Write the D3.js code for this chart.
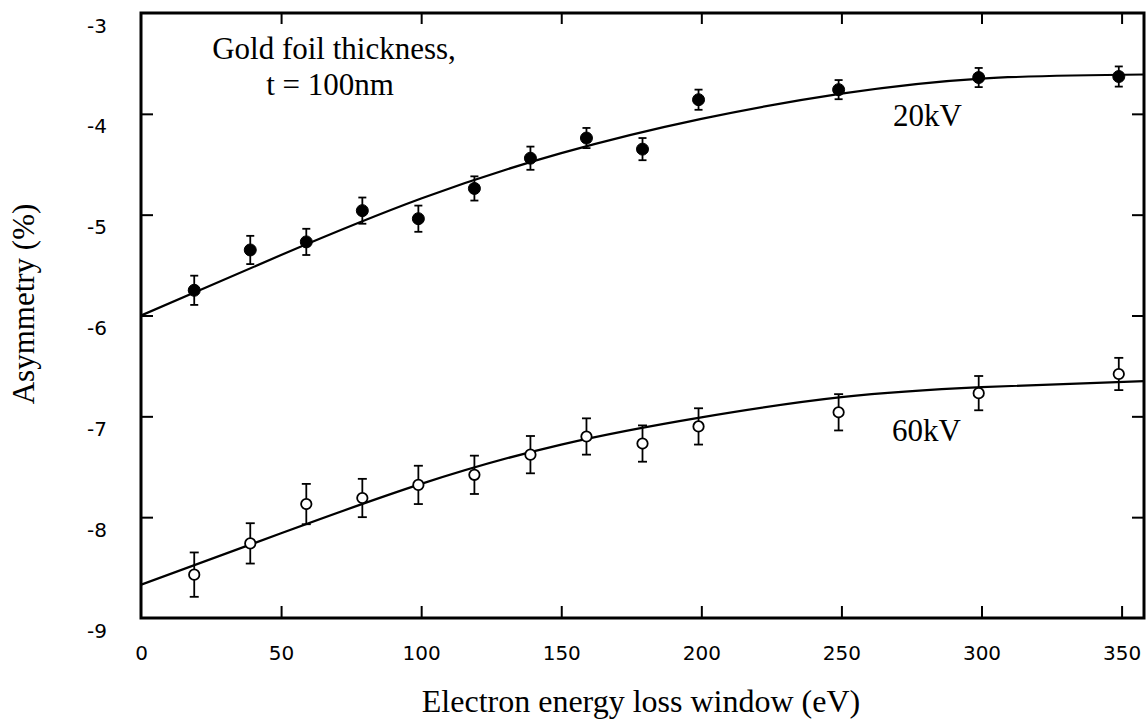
<!DOCTYPE html>
<html>
<head>
<meta charset="utf-8">
<script src="https://cdn.jsdelivr.net/npm/d3@7"></script>
<style>
  body { margin: 0; background: #fff; }
  .tick text { font-family: "DejaVu Sans", sans-serif; font-size: 20px; fill: #000; }
  .serif { font-family: "Liberation Serif", "Times New Roman", serif; fill: #000; }
</style>
</head>
<body>
<div id="canvas"></div>
<script>
// energy loss window (eV), shared by both voltages
var energy = [19, 39, 59, 79, 99, 119, 139, 159, 179, 199, 249, 299, 349];

// 20kV, filled circles
var asym20 = [-5.75, -5.35, -5.27, -4.96, -5.04, -4.74, -4.44, -4.24, -4.35, -3.86, -3.76, -3.64, -3.63];
var err20 = [0.145, 0.14, 0.13, 0.13, 0.13, 0.12, 0.115, 0.10, 0.11, 0.10, 0.095, 0.095, 0.10];

// 60kV, open circles
var asym60 = [-8.57, -8.26, -7.87, -7.81, -7.68, -7.58, -7.38, -7.20, -7.27, -7.10, -6.96, -6.77, -6.58];
var err60 = [0.22, 0.20, 0.20, 0.19, 0.19, 0.19, 0.185, 0.18, 0.18, 0.18, 0.18, 0.17, 0.16];

// fitted curves
var fitX = [0, 50, 100, 150, 200, 250, 300, 358];
var fit20 = [-6.0, -5.40, -4.84, -4.39, -4.05, -3.80, -3.65, -3.61];
var fit60 = [-8.67, -8.16, -7.67, -7.28, -7.01, -6.81, -6.71, -6.65];

var xTicks = [0, 50, 100, 150, 200, 250, 300, 350];
var yTicks = [-3, -4, -5, -6, -7, -8, -9];

var winWidth = 1148, winHeight = 722;
var margin = { top: 13, right: 4, bottom: 104, left: 141 },
  width = winWidth - margin.left - margin.right,
  height = winHeight - margin.top - margin.bottom;

var svg = d3.select("#canvas").append("svg")
  .attr("width", winWidth)
  .attr("height", winHeight);

var g = svg.append("g")
  .attr("transform", "translate(" + margin.left + "," + margin.top + ")");

g.append("defs").append("clipPath")
  .attr("id", "clip")
  .append("rect")
  .attr("width", width)
  .attr("height", height);

var x = d3.scaleLinear().domain([0, 358]).range([0, width]);
var y = d3.scaleLinear().domain([-9, -3]).range([height, 0]);

var fmt = function(d) { return String(d); };

// bottom axis with labels, ticks pointing inward
var xAxis = d3.axisBottom(x).tickValues(xTicks).tickSize(-12).tickPadding(28).tickFormat(fmt);
var gX = g.append("g").attr("transform", "translate(0," + height + ")").call(xAxis);
gX.selectAll(".tick line").filter(function(d) { return d === 0; }).remove();

// left axis
var yAxis = d3.axisLeft(y).tickValues(yTicks).tickSize(-12).tickPadding(34).tickFormat(fmt);
var gY = g.append("g").call(yAxis);
gY.selectAll(".tick text").attr("dy", "1.25em").attr("y", -6);
gY.selectAll(".tick line").filter(function(d) { return d === -3 || d === -9; }).remove();

// top and right, ticks only
var gT = g.append("g").call(d3.axisTop(x).tickValues(xTicks.slice(1)).tickSize(-11).tickFormat(""));
var gR = g.append("g").attr("transform", "translate(" + width + ",0)")
  .call(d3.axisRight(y).tickValues(yTicks.slice(1, -1)).tickSize(-12).tickFormat(""));

[gX, gY, gT, gR].forEach(function(a) {
  a.select(".domain").remove();
  a.selectAll(".tick line").attr("stroke", "#000").attr("stroke-width", 2);
});

g.append("rect")
  .attr("width", width)
  .attr("height", height)
  .attr("fill", "none")
  .attr("stroke", "#000")
  .attr("stroke-width", 3);

var line = d3.line()
  .x(function(d) { return x(d[0]); })
  .y(function(d) { return y(d[1]); })
  .curve(d3.curveNatural);

var curves = g.append("g").attr("clip-path", "url(#clip)");
[fit20, fit60].forEach(function(f) {
  curves.append("path")
    .datum(fitX.map(function(v, i) { return [v, f[i]]; }))
    .attr("d", line)
    .attr("fill", "none")
    .attr("stroke", "#000")
    .attr("stroke-width", 2.2);
});

function drawSeries(vals, errs, filled) {
  var pts = energy.map(function(e, i) { return { x: e, y: vals[i], e: errs[i] }; });
  var s = g.append("g");
  var cap = filled ? 4 : 4.5;
  var bars = s.selectAll(".err").data(pts).enter().append("g")
    .attr("stroke", "#000").attr("stroke-width", 1.8);
  bars.append("line")
    .attr("x1", function(d) { return x(d.x); }).attr("x2", function(d) { return x(d.x); })
    .attr("y1", function(d) { return y(d.y - d.e); }).attr("y2", function(d) { return y(d.y + d.e); });
  bars.append("line")
    .attr("x1", function(d) { return x(d.x) - cap; }).attr("x2", function(d) { return x(d.x) + cap; })
    .attr("y1", function(d) { return y(d.y + d.e); }).attr("y2", function(d) { return y(d.y + d.e); });
  bars.append("line")
    .attr("x1", function(d) { return x(d.x) - cap; }).attr("x2", function(d) { return x(d.x) + cap; })
    .attr("y1", function(d) { return y(d.y - d.e); }).attr("y2", function(d) { return y(d.y - d.e); });
  s.selectAll("circle").data(pts).enter().append("circle")
    .attr("cx", function(d) { return x(d.x); })
    .attr("cy", function(d) { return y(d.y); })
    .attr("r", filled ? 6 : 5.2)
    .attr("fill", filled ? "#000" : "#fff")
    .attr("stroke", "#000")
    .attr("stroke-width", filled ? 1 : 1.8);
}
drawSeries(asym20, err20, true);
drawSeries(asym60, err60, false);

// annotations
svg.append("text").attr("class", "serif")
  .attr("x", 334).attr("y", 59).attr("text-anchor", "middle")
  .style("font-size", "31px").text("Gold foil thickness,");
svg.append("text").attr("class", "serif")
  .attr("x", 330).attr("y", 95).attr("text-anchor", "middle")
  .style("font-size", "31px").text("t = 100nm");
svg.append("text").attr("class", "serif")
  .attr("x", 893).attr("y", 126)
  .style("font-size", "31px").text("20kV");
svg.append("text").attr("class", "serif")
  .attr("x", 892).attr("y", 441)
  .style("font-size", "31px").text("60kV");

// axis titles
svg.append("text").attr("class", "serif")
  .attr("transform", "translate(34,304) rotate(-90)")
  .attr("text-anchor", "middle")
  .style("font-size", "31px").text("Asymmetry (%)");
svg.append("text").attr("class", "serif")
  .attr("x", 641).attr("y", 712).attr("text-anchor", "middle")
  .style("font-size", "32px").text("Electron energy loss window (eV)");
</script>
</body>
</html>
